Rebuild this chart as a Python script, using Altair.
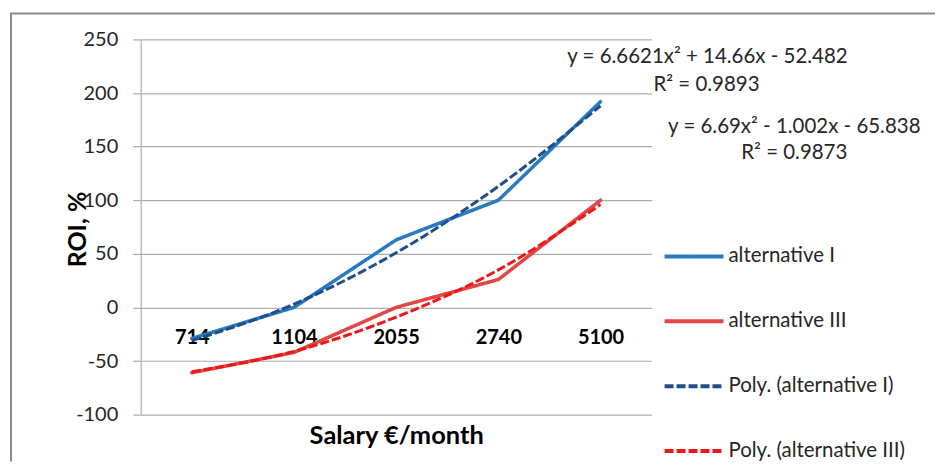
import altair as alt
import pandas as pd

# ---- data ----
salary = ["714", "1104", "2055", "2740", "5100"]
alt_I = [-29, 0, 63, 100, 192]
alt_III = [-61, -42, 0, 26, 100]
poly_I = [-31, 3, 51, 113, 188]
poly_III = [-60, -41, -9, 35, 96]

series_names = ["alternative I", "alternative III",
                "Poly. (alternative I)", "Poly. (alternative III)"]
y_ticks = [-100, -50, 0, 50, 100, 150, 200, 250]
eq_I = ["y = 6.6621x² + 14.66x - 52.482", "R² = 0.9893"]
eq_III = ["y = 6.69x² - 1.002x - 65.838", "R² = 0.9873"]

# ---- styles ----
FONT = "Lato"
series_colors = ["#2a7ac0", "#e04745", "#1f4e8a", "#ee1616"]
series_dash = [[1, 0], [1, 0], [9, 3], [9, 3]]
TEXT = "#262626"
GRID = "#adadad"

rows = []
for name, vals in zip(series_names, [alt_I, alt_III, poly_I, poly_III]):
    for s, v in zip(salary, vals):
        rows.append({"salary": s, "roi": v, "series": name})
df = pd.DataFrame(rows)

x_enc = alt.X(
    "salary:N", sort=salary,
    scale=alt.Scale(type="point", padding=0.5),
    axis=alt.Axis(
        title="Salary €/month", titleFont=FONT, titleFontSize=25.5,
        titleFontWeight="bold", titleColor="#000", titleY=128,
        titleBaseline="middle",
        labelAngle=0, labelFont=FONT, labelFontSize=20, labelFontWeight="bold",
        labelColor="#000", labelPadding=20, offset=-107,
        domain=False, ticks=False, grid=False,
    ),
)
y_enc = alt.Y(
    "roi:Q",
    scale=alt.Scale(domain=[-100, 250], nice=False, zero=False),
    axis=alt.Axis(
        values=y_ticks, labelExpr="datum.value + ''",
        title="ROI, %", titleFont=FONT, titleFontSize=25,
        titleFontWeight="bold", titleColor="#000", titleAngle=-90,
        titleX=-63, titleY=190, titleAlign="center", titleBaseline="middle",
        labelFont=FONT, labelFontSize=20, labelColor=TEXT, labelPadding=15,
        tickSize=8, tickColor=GRID, tickWidth=1.2,
        domainColor=GRID, domainWidth=1.2,
        grid=True, gridColor=GRID, gridWidth=1.2,
    ),
)
legend = alt.Legend(
    orient="none", legendX=523, legendY=186, title=None,
    symbolType="stroke", symbolSize=3480, symbolStrokeWidth=4,
    labelFont=FONT, labelFontSize=20.5, labelColor=TEXT, labelLimit=400,
    rowPadding=23, labelOffset=3, direction="vertical",
)
color_enc = alt.Color(
    "series:N",
    scale=alt.Scale(domain=series_names, range=series_colors),
    legend=legend,
)
dash_enc = alt.StrokeDash(
    "series:N",
    scale=alt.Scale(domain=series_names, range=series_dash),
    legend=legend,
)

base = alt.Chart(df).encode(x=x_enc, y=y_enc, color=color_enc, strokeDash=dash_enc)

solid = base.transform_filter(
    alt.FieldOneOfPredicate(field="series", oneOf=series_names[:2])
).mark_line(strokeWidth=3.5, strokeJoin="round", strokeCap="round")

dashed = base.transform_filter(
    alt.FieldOneOfPredicate(field="series", oneOf=series_names[2:])
).mark_line(strokeWidth=3, interpolate="monotone")

def label(txt, xv, yv):
    return alt.Chart(pd.DataFrame({"t": [txt]})).mark_text(
        font=FONT, fontSize=20.5, color=TEXT, align="center", baseline="middle"
    ).encode(text="t:N", x=alt.value(xv), y=alt.value(yv))

eqs = [
    label(eq_I[0], 568, 18),
    label(eq_I[1], 567, 46),
    label(eq_III[0], 655, 88),
    label(eq_III[1], 655, 114),
]

frame_top = alt.Chart(pd.DataFrame({"a": [0]})).mark_rule(
    color="#8c8c8c", strokeWidth=2
).encode(x=alt.value(-131), x2=alt.value(796), y=alt.value(-26))
frame_left = alt.Chart(pd.DataFrame({"a": [0]})).mark_rule(
    color="#8c8c8c", strokeWidth=2
).encode(x=alt.value(-130), y=alt.value(-26), y2=alt.value(423))

chart = alt.layer(frame_top, frame_left, solid, dashed, *eqs).properties(
    width=512, height=376,
    padding={"left": 1, "top": 4, "right": 0, "bottom": 0},
    background="white",
).configure_view(stroke=None)

chart.save("out.html", embed_options={"renderer": "svg", "actions": False})
